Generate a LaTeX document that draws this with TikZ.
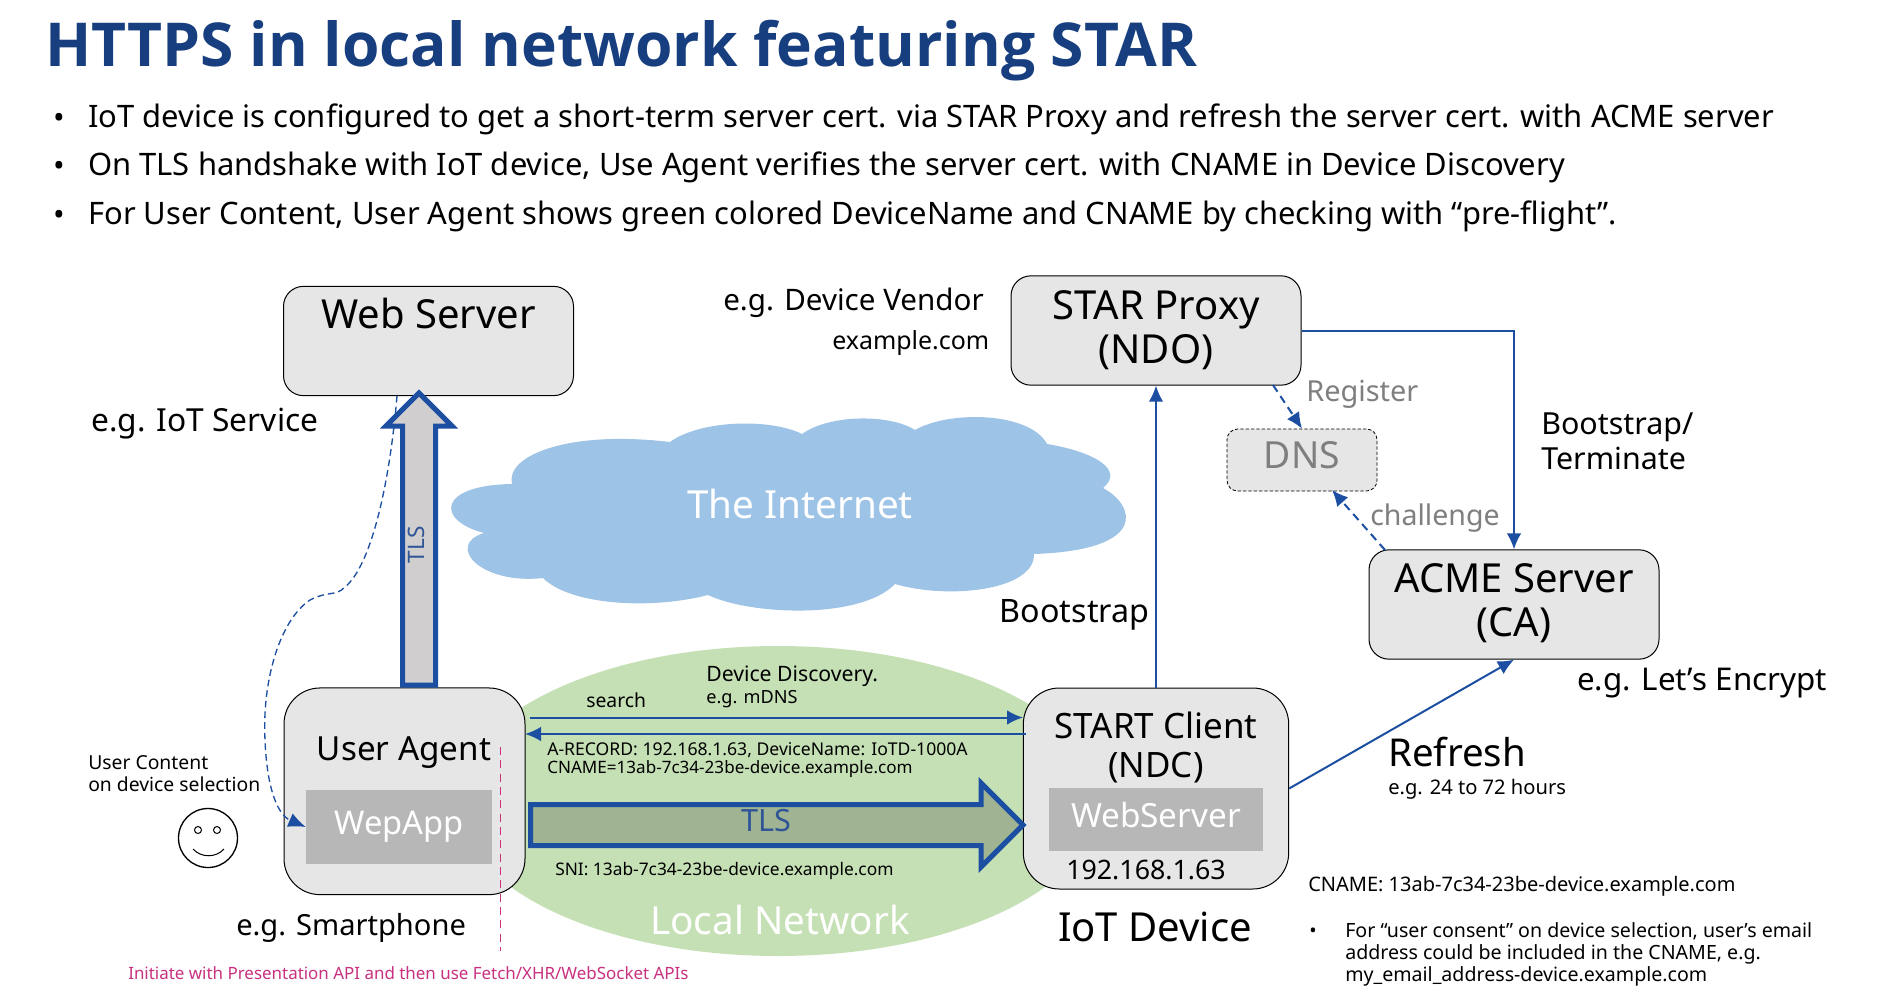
\documentclass[tikz,border=0pt]{standalone}
\usepackage{fontspec}
\setmainfont{Noto Sans}
\newfontfamily\titlefont{Open Sans}
\usetikzlibrary{arrows.meta}
\definecolor{boxfill}{HTML}{E7E6E6}
\definecolor{netgreen}{HTML}{C5E0B4}
\definecolor{cloudblue}{HTML}{9DC3E6}
\definecolor{inner}{HTML}{B7B7B7}
\definecolor{linkblue}{HTML}{1C4FA1}
\definecolor{titleblue}{HTML}{173F7F}
\definecolor{hint}{HTML}{7F7F7F}
\definecolor{magline}{HTML}{C9307F}
\definecolor{tlstext}{HTML}{2F5597}
\definecolor{upfill}{HTML}{D0CECE}
\definecolor{tlsfill}{HTML}{A0B392}
\newcommand\lift[2]{\raisebox{#1}[0pt][0pt]{#2}}
\newcommand\fs[1]{\fontsize{#1}{#1}\selectfont}
\newcommand\two[2]{\renewcommand\arraystretch{1.1}\begin{tabular}{@{}c@{}}#1\\#2\end{tabular}}
\newcommand\capstrut{\rule[-.15em]{0pt}{1.01em}}
\tikzset{
  x=0.75pt,y=-0.75pt,
  boxnode/.style={draw=black,line width=0.75pt,fill=boxfill,rounded corners=15pt,inner sep=0pt,minimum width=217.5pt,minimum height=82pt,font=\fs{30},text=black},
  devnode/.style={boxnode,rounded corners=27pt},
  innernode/.style={fill=inner,inner sep=0pt,text=white,font=\fs{24.5}},
  lbl/.style={inner sep=0pt,execute at begin node=\capstrut,anchor=west},
  link/.style={draw=linkblue,line width=1.5pt,-{Latex[length=12pt,width=11pt]}},
  dlink/.style={link,dash pattern=on 6pt off 4pt},
  thin dlink/.style={draw=linkblue,line width=1pt,dash pattern=on 5pt off 3pt,-{Latex[length=13pt,width=11pt]}},
  block/.style={draw=linkblue,line width=3.75pt,miter limit=10},
}
\begin{document}
\begin{tikzpicture}
\useasboundingbox (0,0) rectangle (1903,1003);
\fill[white] (0,0) rectangle (1903,1003);
% header
\node[lbl,font=\titlefont\bfseries\fs{45.4},text=titleblue] (title) at (45,48) {HTTPS in local network featuring STAR};
\node[lbl,font=\fs{23.2}] (b1) at (53,118) {•};
\node[lbl,font=\fs{23.2}] (b2) at (53,166) {•};
\node[lbl,font=\fs{23.2}] (b3) at (53,215) {•};
\node[lbl,font=\fs{23.2}] (t1) at (88,118) {IoT device is configured to get a short-term server cert. via STAR Proxy and refresh the server cert. with ACME server};
\node[lbl,font=\fs{23.2}] (t2) at (88,166) {On TLS handshake with IoT device, Use Agent verifies the server cert. with CNAME in Device Discovery};
\node[lbl,font=\fs{23.2}] (t3) at (88,215) {For User Content, User Agent shows green colored DeviceName and CNAME by checking with “pre-flight”.};
% backgrounds
\fill[netgreen] (778,801) ellipse (321 and 155);
\fill[cloudblue] (512,484) .. controls (505,455) and (570,430) .. (670,442)
  .. controls (700,420) and (770,418) .. (802,434)
  .. controls (830,414) and (890,414) .. (915,430)
  .. controls (950,410) and (1030,412) .. (1047,444)
  .. controls (1095,452) and (1125,470) .. (1103,488)
  .. controls (1135,505) and (1150,550) .. (1034,554)
  .. controls (1035,590) and (950,600) .. (895,584)
  .. controls (860,620) and (750,615) .. (708,595)
  .. controls (650,610) and (570,605) .. (543,578)
  .. controls (480,585) and (445,545) .. (484,533)
  .. controls (435,520) and (438,485) .. (512,484) -- cycle;
\node[inner sep=0pt,font=\fs{29},text=white] (internet) at (800,504) {The Internet};
\node[inner sep=0pt,font=\fs{29},text=white] (localnet) at (780,920) {Local Network};
% boxes
\node[boxnode] (web) at (428.5,341) {\lift{9.5pt}{Web Server}};
\node[boxnode] (proxy) at (1156,330.5) {\lift{-7.5pt}{\two{STAR Proxy}{(NDO)}}};
\node[boxnode] (acme) at (1514,604.5) {\lift{-7pt}{\two{ACME Server}{(CA)}}};
\node[boxnode,line width=0.6pt,dash pattern=on 2.5pt off 1.5pt,rounded corners=8pt,minimum width=112.5pt,minimum height=46.5pt,text=hint,font=\fs{28}] (dns) at (1302,460) {\lift{-6.25pt}{DNS}};
\node[devnode,minimum width=180.75pt,minimum height=155pt,anchor=center] (ua) at (404.5,791.3) {};
\node[devnode,minimum width=199pt,minimum height=150.75pt] (client) at (1156,788.5) {};
\node[innernode,minimum width=139.5pt,minimum height=55.5pt] (wepapp) at (399,827) {WepApp};
\node[innernode,minimum width=160.5pt,minimum height=47pt,font=\fs{25}] (webserver) at (1156,819.5) {\lift{-6pt}{WebServer}};
\node[lbl,anchor=center,font=\fs{24.9}] (uatext) at (404,750) {User Agent};
\node[lbl,anchor=center,font=\fs{26.2}] (clienttext1) at (1156,726) {START Client};
\node[lbl,anchor=center,font=\fs{26.2}] (clienttext2) at (1156,765) {(NDC)};
\node[lbl,anchor=center,font=\fs{20.1}] (ip) at (1146,870) {192.168.1.63};
% block arrows
\draw[thin dlink] (397,396) .. controls (390,480) and (372,565) .. (345,587)
  .. controls (335,597) and (330,590) .. (310,600)
  .. controls (280,620) and (262,680) .. (265,740)
  .. controls (267,790) and (278,815) .. (wepapp.west);
\draw[block,fill=upfill] (402.5,685) -- (435.5,685) -- (435.5,426) -- (452,426) -- (419,393) -- (386,426) -- (402.5,426) -- cycle;
\node[inner sep=0pt,rotate=90,font=\fs{17},text=tlstext] (tlsup) at (416,545) {TLS};
\draw[block,fill=tlsfill] (530.5,804.5) -- (981,804.5) -- (981,783) -- (1023,825) -- (981,867) -- (981,845.5) -- (530.5,845.5) -- cycle;
\node[inner sep=0pt,font=\fs{23},text=tlstext] (tlsright) at (766,821) {TLS};
% connectors
\coordinate (regstart) at (1273,385);
\coordinate (chalstart) at (1385,550);
\coordinate (chalend) at (1332,490);
\coordinate (ua search) at (530,717.5);
\coordinate (client search) at (1023,717.5);
\coordinate (client answer) at (1026,734);
\coordinate (ua answer) at (525,734);
\draw[link] (client.north) -- (proxy.south);
\draw[link] (proxy.east) -| (acme.north);
\draw[link] (client.east) -- (acme.south);
\draw[dlink] (regstart) -- (dns.north);
\draw[dlink] (chalstart) -- (chalend);
\draw[link] (ua search) -- (client search);
\draw[link] (client answer) -- (ua answer);
% magenta
\coordinate (magtop) at (500.5,747);
\coordinate (magbot) at (500.5,951);
\draw[magline,line width=1pt,dash pattern=on 6pt off 4pt] (magtop) -- (magbot);
\node[lbl,font=\fs{12.7},text=magline] (api) at (128,973) {Initiate with Presentation API and then use Fetch/XHR/WebSocket APIs};
% smiley
\draw[line width=1pt,fill=white] (208,838) circle (29.5);
\draw[line width=0.75pt] (198,830) circle (3.5);
\draw[line width=0.75pt] (217,830) circle (3.5);
\draw[line width=0.75pt] (193,849) .. controls (201,858) and (216,858) .. (224,849);
% labels
\node[lbl,font=\fs{23.8}] (iotservice) at (91,422) {e.g. IoT Service};
\node[lbl,font=\fs{22.2}] (vendor) at (723,301) {e.g. Device Vendor};
\node[lbl,font=\fs{18.7}] (examplecom) at (832,342) {example.com};
\node[lbl,font=\fs{24.2},anchor=center] (bootstrap) at (1074.6,612) {Bootstrap};
\node[lbl,font=\fs{21.7},text=hint] (register) at (1306,392.5) {Register};
\node[lbl,font=\fs{21.4},text=hint] (challenge) at (1370,517) {challenge};
\node[lbl,font=\fs{22.8}] (bt1) at (1541,425) {Bootstrap/};
\node[lbl,font=\fs{22.8}] (bt2) at (1541,459) {Terminate};
\node[lbl,font=\fs{23.5}] (letsencrypt) at (1577,681) {e.g. Let’s Encrypt};
\node[lbl,font=\fs{28.8}] (refresh) at (1388,753) {Refresh};
\node[lbl,font=\fs{15.1}] (hours) at (1388,788) {e.g. 24 to 72 hours};
\node[lbl,font=\fs{30},anchor=center] (iotdevice) at (1155,927) {IoT Device};
\node[lbl,font=\fs{21.8}] (smartphone) at (236,926) {e.g. Smartphone};
\node[lbl,font=\fs{14.5}] (uc1) at (88,763) {User Content};
\node[lbl,font=\fs{14.5}] (uc2) at (88,785) {on device selection};
\node[lbl,font=\fs{14.5}] (search) at (586,701) {search};
\node[lbl,font=\fs{15.9}] (dd1) at (706,675) {Device Discovery.};
\node[lbl,font=\fs{13.6}] (dd2) at (706,698) {e.g. mDNS};
\node[lbl,font=\fs{13.2}] (arec) at (547,749) {A-RECORD: 192.168.1.63, DeviceName: IoTD-1000A};
\node[lbl,font=\fs{12.8}] (cname) at (547,768) {CNAME=13ab-7c34-23be-device.example.com};
\node[lbl,font=\fs{13}] (sni) at (555,870) {SNI: 13ab-7c34-23be-device.example.com};
\node[lbl,font=\fs{15}] (cname2) at (1308,885) {CNAME: 13ab-7c34-23be-device.example.com};
\node[lbl,font=\fs{14.7}] (b4) at (1309,931) {•};
\node[lbl,font=\fs{14.7}] (c1) at (1345,931) {For “user consent” on device selection, user’s email};
\node[lbl,font=\fs{14.7}] (c2) at (1345,953) {address could be included in the CNAME, e.g.};
\node[lbl,font=\fs{14.7}] (c3) at (1345,975) {my\_email\_address-device.example.com};
\end{tikzpicture}
\end{document}
